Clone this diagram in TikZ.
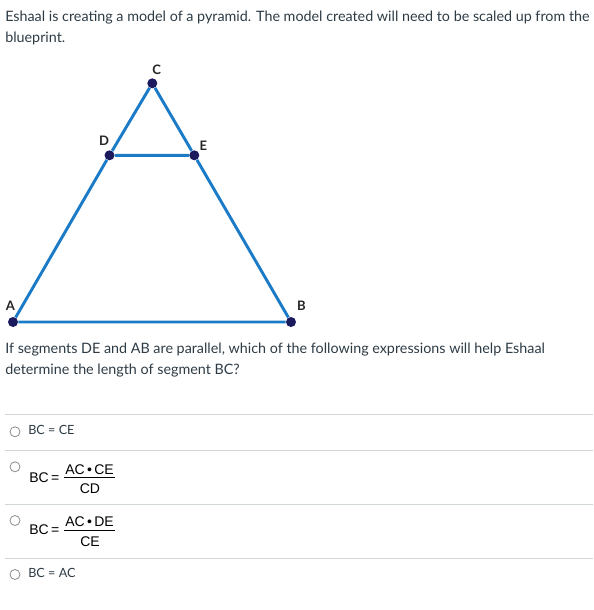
\documentclass[tikz,border=0pt]{standalone}
\usepackage{fontspec}
\setmainfont{Lato}
\newfontfamily\arialfont{Liberation Sans}
\usetikzlibrary{positioning}
\definecolor{canvastext}{HTML}{2D3B45}
\definecolor{edgeblue}{HTML}{1B7BC6}
\definecolor{dotnavy}{HTML}{1C1A5E}
\definecolor{rulegray}{HTML}{D0D5D8}
\definecolor{radiogray}{HTML}{8C8C8C}

\begin{document}
\begin{tikzpicture}[x=0.75pt,y=-0.75pt]
	\tikzset{txt/.style={anchor=base west,inner sep=0pt,text=canvastext,font=\fontsize{10.74}{13}\selectfont},
		opt/.style={anchor=west,inner sep=0pt,text=canvastext,font=\fontsize{9.5}{12}\selectfont},
		eqn/.style={inner sep=0pt,text=black,font=\arialfont\fontsize{10.5}{12}\selectfont},
		vertex/.style={circle,fill=dotnavy,inner sep=0pt,minimum size=7.5pt},
		lbl/.style={inner sep=0pt,text=black!85,font=\fontsize{9.8}{11}\selectfont\bfseries},
		edge/.style={draw=edgeblue,line width=2.2pt},
		radio/.style={circle,draw=radiogray,line width=0.6pt,inner sep=0pt,minimum size=7.5pt},
		rule/.style={draw=rulegray,line width=0.75pt}}
	\useasboundingbox (0,0) rectangle (593,610);

	%% question text
	\node[txt] (t1) at (5,22) {Eshaal is creating a model of a pyramid. The model created will need to be scaled up from the};
	\node[txt] (t2) at (5,43) {blueprint.};

	%% blueprint
	\node[vertex] (A) at (13,322) {};
	\node[vertex] (B) at (291,322) {};
	\node[vertex] (C) at (152.3,83.3) {};
	\node[vertex] (D) at (109.5,155.3) {};
	\node[vertex] (E) at (194.3,155.3) {};
	\path[edge]
		(A) -- (D) (D) -- (C) (C) -- (E) (E) -- (B)
		(A) -- (B) (D) -- (E);
	\node[lbl] (lA) at (10.5,305.7) {A};
	\node[lbl] (lB) at (301.5,305.7) {B};
	\node[lbl] (lC) at (156.7,69.5) {C};
	\node[lbl] (lD) at (104,140.5) {D};
	\node[lbl] (lE) at (203.5,146) {E};

	\node[txt] (q1) at (5,353) {If segments DE and AB are parallel, which of the following expressions will help Eshaal};
	\node[txt] (q2) at (5,374) {determine the length of segment BC?};

	%% answer choices
	\foreach \y in {414.3,450.5,504.3,558.5}
		\draw[rule] (5,\y) -- (593,\y);

	\node[radio] (r1) at (15,431.8) {};
	\node[opt] (o1) at (28,430) {BC = CE};

	\node[radio] (r2) at (15,466.8) {};
	\node[eqn,anchor=west] (bc2) at (29,478) {BC\,=};
	\node[eqn] (n2) at (89.5,469.5) {AC\,•\,CE};
	\node[eqn] (d2) at (90,488.5) {CD};
	\draw[line width=0.8pt] (64,477.8) -- (115,477.8);

	\node[radio] (r3) at (15,520.5) {};
	\node[eqn,anchor=west] (bc3) at (29,529.5) {BC\,=};
	\node[eqn] (n3) at (89.5,521.5) {AC\,•\,DE};
	\node[eqn] (d3) at (90,541.5) {CE};
	\draw[line width=0.8pt] (64,530.8) -- (115,530.8);

	\node[radio] (r4) at (15,574.5) {};
	\node[opt] (o4) at (28,573) {BC = AC};
\end{tikzpicture}
\end{document}
